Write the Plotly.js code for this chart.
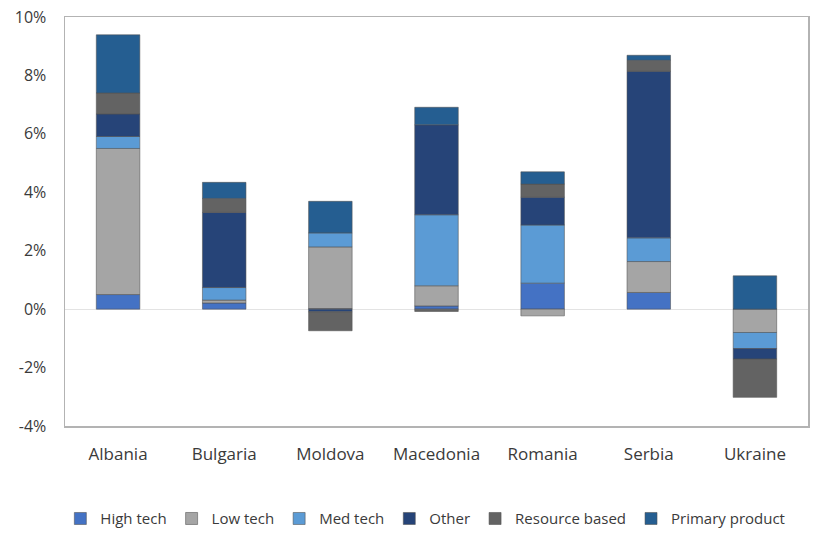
<!DOCTYPE html>
<html>
<head>
<meta charset="utf-8">
<script src="https://cdn.plot.ly/plotly-3.0.1.min.js"></script>
<style>html,body{margin:0;padding:0;background:#fff;}#chart{width:823px;height:537px;}</style>
</head>
<body>
<div id="chart"></div>
<script>
const countries = ["Albania", "Bulgaria", "Moldova", "Macedonia", "Romania", "Serbia", "Ukraine"];
const highTech       = [0.50, 0.21, 0.02, 0.11, 0.89, 0.57, 0.00];
const lowTech        = [5.00, 0.10, 2.11, 0.69, -0.23, 1.06, -0.80];
const medTech        = [0.41, 0.43, 0.48, 2.43, 1.99, 0.81, -0.55];
const other          = [0.77, 2.57, -0.09, 3.08, 0.95, 5.70, -0.36];
const resourceBased  = [0.72, 0.48, -0.65, -0.08, 0.45, 0.38, -1.31];
const primaryProduct = [1.99, 0.55, 1.08, 0.60, 0.42, 0.17, 1.14];
const seriesNames = ["High tech", "Low tech", "Med tech", "Other", "Resource based", "Primary product"];
const yTickValues = [-4, -2, 0, 2, 4, 6, 8, 10];
const yTickLabels = ["-4%", "-2%", "0%", "2%", "4%", "6%", "8%", "10%"];

const colors = ["#4472C4", "#A5A5A5", "#5B9BD5", "#264478", "#636363", "#255E91"];
const seriesData = [highTech, lowTech, medTech, other, resourceBased, primaryProduct];

const traces = seriesData.map((vals, i) => ({
  type: "bar",
  name: seriesNames[i],
  x: countries,
  y: vals,
  marker: {color: colors[i], line: {color: "rgba(80,80,80,0.55)", width: 1}},
  hoverinfo: "x+y+name"
}));

const layout = {
  width: 823, height: 537,
  margin: {l: 65, r: 15, t: 17, b: 111},
  barmode: "relative",
  bargap: 0.59,
  paper_bgcolor: "#fff",
  plot_bgcolor: "#fff",
  font: {family: "Open Sans, Liberation Sans, sans-serif", size: 14, color: "#404040"},
  xaxis: {
    automargin: false,
    showgrid: false, showline: true, mirror: true, linecolor: "#b3b3b3", linewidth: 1.5,
    ticks: "", tickfont: {size: 17, color: "#3a3a3a"}, zeroline: false,
    ticklabelstandoff: 12
  },
  yaxis: {
    automargin: false,
    range: [-4, 10], tickmode: "array", tickvals: yTickValues, ticktext: yTickLabels,
    showgrid: false,
    showline: true, mirror: true, linecolor: "#b3b3b3", linewidth: 1.5,
    zeroline: true, zerolinecolor: "#e3e3e3", zerolinewidth: 1,
    ticks: "", tickfont: {size: 16, color: "#3a3a3a"}, ticklabelstandoff: 14
  },
  legend: {
    orientation: "h", x: 0.485, xanchor: "center",
    yref: "container", y: 0.034, yanchor: "middle",
    font: {size: 15, color: "#3a3a3a"}, traceorder: "normal",
    itemwidth: 30, tracegroupgap: 0
  },
  showlegend: true
};

Plotly.newPlot("chart", traces, layout, {displayModeBar: false, staticPlot: true});
</script>
</body>
</html>
